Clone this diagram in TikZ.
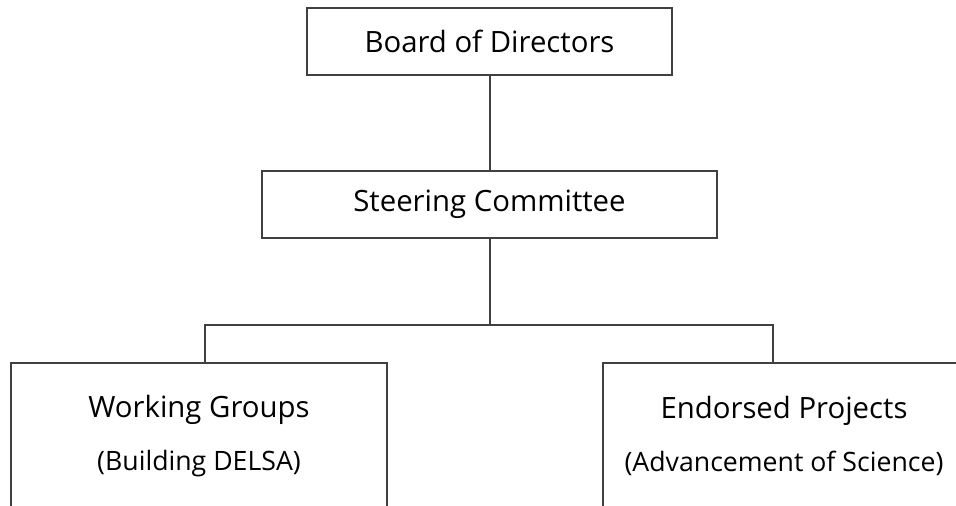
\documentclass[tikz,border=0pt]{standalone}
\usepackage{fontspec}
\setmainfont{Open Sans}
\usepackage{tikz}

\begin{document}
\begin{tikzpicture}[%
        x=0.75pt, y=-0.75pt, % Pixelraster der Vorlage
        font=\fontsize{22}{26}\selectfont,
        box/.style={draw=black!75, line width=1.5pt, rectangle, inner sep=0pt},
        link/.style={draw=black!75, line width=1.5pt}
        ]
            \useasboundingbox (0,0) rectangle (956,506);
            \clip (0,0) rectangle (956,506);

            % Kaesten
            \node[box, minimum width=365*0.75pt, minimum height=67*0.75pt]
                (board) at (489.5,41.5) {Board of Directors};
            \node[box, minimum width=455*0.75pt, minimum height=67*0.75pt]
                (steer) at (489.5,204.5) {Steering Committee};
            \node[box, minimum width=376*0.75pt, minimum height=146*0.75pt, align=center]
                (wg) at (199,436) {Working Groups\\[14pt]{\fontsize{20}{24}\selectfont (Building DELSA)}};
            \node[box, minimum width=362*0.75pt, minimum height=146*0.75pt, align=center]
                (ep) at (784,436) {Endorsed Projects\\[14pt]{\fontsize{20}{24}\selectfont (Advancement of Science)}};

            % Verzweigung
            \coordinate (bus) at (489.5,325);
            \coordinate (wgtop) at (205,363);
            \coordinate (eptop) at (773,363);

            % Leitungen
            \draw[link] (board.south) -- (steer.north);
            \draw[link] (steer.south) -- (bus);
            \draw[link] (wgtop) |- (bus) -| (eptop);

        \end{tikzpicture}
\end{document}
